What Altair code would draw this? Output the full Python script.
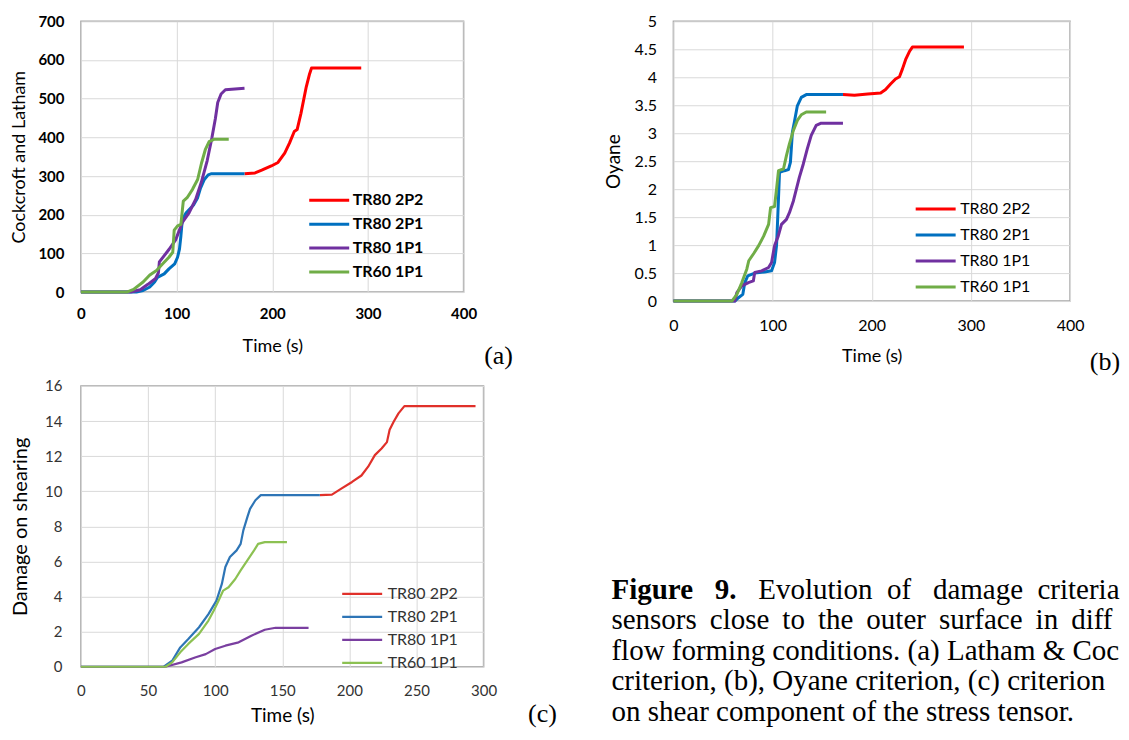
import altair as alt
import pandas as pd

SERIES = ["TR80 2P2", "TR80 2P1", "TR80 1P1", "TR60 1P1"]

# ---------------- Panel (a): Cockcroft and Latham ----------------
A_2P2_T = [171, 182, 189, 199, 206, 213, 218, 223, 226, 230, 235.5, 239, 241, 293]
A_2P2_V = [306, 308, 315, 326, 335, 359, 385, 415, 420, 462, 530, 564, 579, 579]
A_2P1_T = [0, 58, 65, 72, 77, 80, 87, 92, 98, 101, 103, 104.5, 106, 110, 115, 118, 122, 125, 129, 133, 136.5, 171]
A_2P1_V = [0, 0, 4, 13, 26, 38, 47, 60, 73, 90, 111, 145, 188, 205, 218, 226, 244, 269, 291, 303, 306, 306]
A_1P1_T = [0, 52, 62, 70, 78, 81, 82, 92, 99, 106, 113, 120, 126, 132, 137, 140.5, 143, 146.5, 151, 171]
A_1P1_V = [0, 0, 6, 20, 35, 50, 78, 110, 135, 180, 205, 240, 285, 340, 400, 448, 490, 512, 523, 527]
A_60_T = [0, 48, 55, 65, 72, 79, 85.5, 92, 96, 97.5, 101, 104.5, 107, 111, 116.5, 122, 126, 130, 134, 139, 154.5]
A_60_V = [0, 0, 7, 26, 44, 56, 73, 90, 103, 160, 171, 175, 235, 244, 265, 291, 333, 368, 389, 395, 395]

# ---------------- Panel (b): Oyane ----------------
B_2P2_T = [171, 182.6, 196, 209, 214, 219, 224, 228, 231, 234.5, 238, 241, 293]
B_2P2_V = [3.69, 3.68, 3.70, 3.72, 3.78, 3.88, 3.97, 4.01, 4.15, 4.33, 4.46, 4.54, 4.54]
B_2P1_T = [0, 62, 65.6, 70, 72, 75, 82, 92, 99, 102, 104, 105, 107, 112, 116, 118, 120, 122, 125, 129, 134, 171]
B_2P1_V = [0, 0, 0.06, 0.12, 0.33, 0.45, 0.50, 0.52, 0.54, 0.69, 0.99, 1.40, 2.30, 2.33, 2.35, 2.48, 3.02, 3.20, 3.49, 3.64, 3.69, 3.69]
B_1P1_T = [0, 62, 64, 69, 75.6, 80.6, 82, 89, 96, 99, 102, 105.7, 109, 114, 117, 121, 124, 127, 131, 135, 139, 144, 149, 171]
B_1P1_V = [0, 0, 0.15, 0.27, 0.33, 0.36, 0.51, 0.54, 0.60, 0.69, 0.99, 1.16, 1.37, 1.46, 1.58, 1.79, 2.0, 2.21, 2.45, 2.72, 2.96, 3.14, 3.18, 3.18]
B_60_T = [0, 59, 64, 69, 74, 76, 81, 86, 91, 96, 98, 102, 104, 106, 111, 114, 117, 121, 125, 129, 134, 154]
B_60_V = [0, 0, 0.12, 0.33, 0.57, 0.72, 0.85, 0.99, 1.16, 1.37, 1.67, 1.69, 2.0, 2.33, 2.36, 2.6, 2.81, 3.05, 3.23, 3.33, 3.38, 3.38]

# ---------------- Panel (c): Damage on shearing ----------------
C_2P2_T = [178, 187, 194, 202, 209, 214, 219, 224, 228, 230, 233, 236.6, 241, 294]
C_2P2_V = [9.78, 9.81, 10.15, 10.53, 10.9, 11.4, 12.06, 12.44, 12.8, 13.5, 13.96, 14.44, 14.85, 14.85]
C_2P1_T = [0, 61.7, 68, 74, 80, 88, 95, 101, 105, 107.6, 111, 116, 119, 121, 124, 126, 130, 134, 178]
C_2P1_V = [0, 0, 0.34, 1.1, 1.58, 2.25, 3.0, 3.77, 4.72, 5.68, 6.25, 6.63, 7.0, 7.77, 8.53, 9.0, 9.49, 9.78, 9.78]
C_1P1_T = [0, 63, 75, 85, 93, 100, 107.6, 117.5, 127, 137, 145, 148.5, 169.6]
C_1P1_V = [0, 0, 0.25, 0.53, 0.72, 1.01, 1.2, 1.39, 1.77, 2.11, 2.22, 2.22, 2.22]
C_60_T = [0, 63, 68, 74, 80, 88, 95, 99, 102.6, 106, 110, 115, 119, 124, 129, 132, 137, 153.5]
C_60_V = [0, 0, 0.25, 0.82, 1.3, 1.87, 2.63, 3.2, 3.77, 4.34, 4.53, 5.0, 5.49, 6.06, 6.63, 7.0, 7.1, 7.1]

# ---------------- Axis ticks and texts ----------------
X_TICKS_AB = [0, 100, 200, 300, 400]
X_TICKS_C = [0, 50, 100, 150, 200, 250, 300]
Y_TICKS_A = [0, 100, 200, 300, 400, 500, 600, 700]
Y_TICKS_B = [0, 0.5, 1, 1.5, 2, 2.5, 3, 3.5, 4, 4.5, 5]
Y_TICKS_C = [0, 2, 4, 6, 8, 10, 12, 14, 16]

COLORS_AB = ["#FF0000", "#0070C0", "#7030A0", "#70AD47"]
COLORS_C = ["#E0302A", "#2E75B6", "#7A3FA0", "#8CC152"]

CAPTION_BOLD = ["Figure", "9."]
CAPTION_LINE1 = ["Evolution", "of", "damage", "criteria"]
CAPTION_LINE2 = ["sensors", "close", "to", "the", "outer", "surface", "in", "different"]
CAPTION_REST = [
    "flow forming conditions. (a) Latham & Cockcroft",
    "criterion, (b), Oyane criterion, (c) criterion based",
    "on shear component of the stress tensor.",
]

FONT = "Lato"
SERIF = "Liberation Serif"
NB = "\u00a0"


def long_frame(pairs):
    rows = []
    for name, ts, vs in pairs:
        for i, (t, v) in enumerate(zip(ts, vs)):
            rows.append({"series": name, "t": t, "v": v, "i": i})
    return pd.DataFrame(rows)


def text_layer(label, x, y, size, weight="normal", font=SERIF, align="center",
               baseline="middle", limit=None, line_height=None):
    kw = dict(font=font, fontSize=size, fontWeight=weight, align=align,
              baseline=baseline, color="#000000")
    if limit is not None:
        kw.update(limit=limit, ellipsis="\u200b")
    if line_height is not None:
        kw.update(lineBreak="\n", lineHeight=line_height)
    return alt.Chart(pd.DataFrame({"s": [label]})).mark_text(**kw).encode(
        x=alt.value(x), y=alt.value(y), text="s:N"
    )


def panel(df, width, height, x_ticks, y_ticks, y_title, y_fmt, colors, stroke_w,
          tick_size, tick_weight, tick_color, x_lab_pad, x_title_pad, x_title_size,
          y_lab_pad, y_title_pad, y_title_size, leg_x, leg_y, leg_row_h,
          leg_offset, leg_weight, extra):
    x_axis = alt.Axis(
        values=x_ticks, grid=True, gridColor="#D9D9D9", domain=False, ticks=False,
        labelFont=FONT, labelFontSize=tick_size, labelFontWeight=tick_weight,
        labelColor=tick_color, labelPadding=x_lab_pad, labelFlush=False,
        labelOverlap=False, title="Time (s)", titleFont=FONT,
        titleFontSize=x_title_size, titleFontWeight="normal", titleColor="#000000",
        titlePadding=x_title_pad,
    )
    y_axis = alt.Axis(
        values=y_ticks, format=y_fmt, grid=True, gridColor="#D9D9D9", domain=False,
        ticks=False, labelFont=FONT, labelFontSize=tick_size,
        labelFontWeight=tick_weight, labelColor=tick_color, labelPadding=y_lab_pad,
        labelFlush=False, labelOverlap=False, title=y_title, titleFont=FONT,
        titleFontSize=y_title_size, titleFontWeight="normal", titleColor="#000000",
        titlePadding=y_title_pad,
    )
    legend = alt.Legend(
        title=None, orient="none", legendX=leg_x, legendY=leg_y, direction="vertical",
        symbolType="stroke", symbolSize=1600, symbolStrokeWidth=stroke_w,
        labelFont=FONT, labelFontSize=16, labelFontWeight=leg_weight,
        labelColor=tick_color, rowPadding=0, clipHeight=leg_row_h, padding=0,
        labelOffset=leg_offset,
    )
    lines = alt.Chart(df).mark_line(strokeWidth=stroke_w, strokeJoin="round").encode(
        x=alt.X("t:Q", scale=alt.Scale(domain=[x_ticks[0], x_ticks[-1]], nice=False), axis=x_axis),
        y=alt.Y("v:Q", scale=alt.Scale(domain=[y_ticks[0], y_ticks[-1]], nice=False), axis=y_axis),
        color=alt.Color("series:N", scale=alt.Scale(domain=SERIES, range=colors), legend=legend),
        order=alt.Order("i:Q"),
    )
    return alt.layer(lines, *extra).properties(width=width, height=height)


df_a = long_frame([
    (SERIES[0], A_2P2_T, A_2P2_V), (SERIES[1], A_2P1_T, A_2P1_V),
    (SERIES[2], A_1P1_T, A_1P1_V), (SERIES[3], A_60_T, A_60_V),
])
df_b = long_frame([
    (SERIES[0], B_2P2_T, B_2P2_V), (SERIES[1], B_2P1_T, B_2P1_V),
    (SERIES[2], B_1P1_T, B_1P1_V), (SERIES[3], B_60_T, B_60_V),
])
df_c = long_frame([
    (SERIES[0], C_2P2_T, C_2P2_V), (SERIES[1], C_2P1_T, C_2P1_V),
    (SERIES[2], C_1P1_T, C_1P1_V), (SERIES[3], C_60_T, C_60_V),
])

chart_a = panel(
    df_a, 383, 271, X_TICKS_AB, Y_TICKS_A, "Cockcroft and Latham", "d", COLORS_AB, 3,
    15, "bold", "#000000", 14.5, 15.5, 18, 17, 9, 18, 227, 167, 24, 2, "bold",
    [text_layer("(a)", 418, 335, 26)],
)
chart_b = panel(
    df_b, 397, 280, X_TICKS_AB, Y_TICKS_B, "Oyane", "~g", COLORS_AB, 3,
    16, "normal", "#000000", 16, 14, 18, 17, 11, 19, 241, 175, 25.7, 3, "normal",
    [text_layer("(b)", 432, 341, 26)],
)

line1_text = (NB * 2).join(CAPTION_LINE1[:2]) + NB * 3 + (NB * 2).join(CAPTION_LINE1[2:])
line2_text = (NB + "\u2009").join(CAPTION_LINE2)
rest_text = "\n".join([line2_text] + CAPTION_REST)

caption_layers = [
    text_layer("(c)", 462, 328, 26),
    text_layer((NB * 3).join(CAPTION_BOLD), 531, 213, 29, weight="bold",
               align="left", baseline="alphabetic"),
    text_layer(line1_text, 678, 213, 29, align="left", baseline="alphabetic", limit=362),
    text_layer(rest_text, 531, 243.5, 29, align="left", baseline="alphabetic",
               limit=509, line_height=30.5),
]

chart_c = panel(
    df_c, 403, 281, X_TICKS_C, Y_TICKS_C, "Damage on shearing", "d", COLORS_C, 2.2,
    15, "normal", "#333333", 16.5, 8.5, 19, 19, 13.6, 20, 260, 197, 22.3, 4, "normal",
    caption_layers,
)

chart = (
    alt.concat(
        chart_a, chart_b, chart_c, columns=2, bounds="flush", align="each",
        spacing={"row": 85, "column": 190},
    )
    .resolve_scale(color="independent", x="independent", y="independent")
    .resolve_legend(color="independent")
    .configure_view(stroke="#A6A6A6", strokeWidth=1.5)
    .properties(padding={"left": 2, "top": 4, "right": 0, "bottom": 0}, background="white")
)

chart.save("out.html", embed_options={"renderer": "svg", "actions": False})
